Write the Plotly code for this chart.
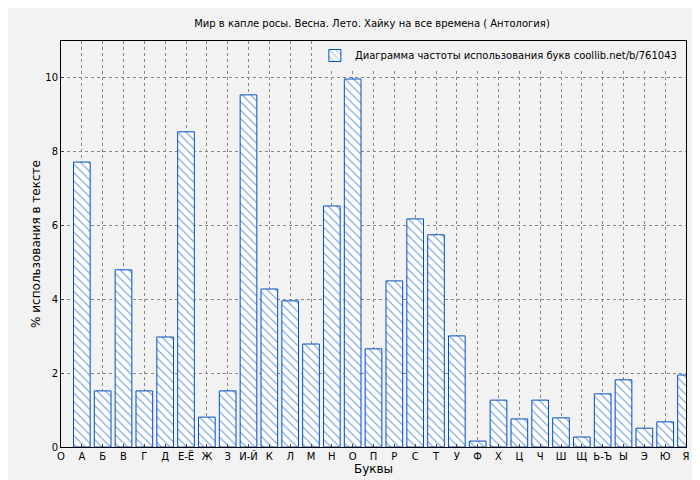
import plotly.graph_objects as go

letters = ["А","Б","В","Г","Д","Е-Ё","Ж","З","И-Й","К","Л","М","Н","О","П","Р","С","Т","У","Ф","Х","Ц","Ч","Ш","Щ","Ь-Ъ","Ы","Э","Ю","Я"]
values = [7.72,1.52,4.80,1.52,2.98,8.54,0.81,1.52,9.54,4.28,3.96,2.79,6.53,9.97,2.66,4.50,6.18,5.75,3.01,0.16,1.27,0.76,1.27,0.79,0.27,1.44,1.82,0.51,0.68,1.95]
tick_labels = ["О"] + letters
positions = list(range(1, len(letters) + 1))

fig = go.Figure(go.Bar(
    x=positions, y=values, width=0.8,
    name="Диаграмма частоты использования букв coollib.net/b/761043",
    marker=dict(color="white", line=dict(color="#0050c0", width=1),
                pattern=dict(shape="\\", fgcolor="#0050c0", bgcolor="white", size=6, solidity=0.2)),
    showlegend=True,
))
fig.update_layout(
    width=700, height=480,
    margin=dict(l=53, r=22, t=33, b=41),
    paper_bgcolor="#f2f2f2", plot_bgcolor="#f2f2f2",
    font=dict(family="DejaVu Sans", size=10, color="black"),
    title=dict(text="Мир в капле росы. Весна. Лето. Хайку на все времена ( Антология)", x=0.52, y=0.975, xanchor="center", font=dict(size=10)),
    legend=dict(x=0.995, y=1.0, xanchor="right", yanchor="top", bgcolor="#f2f2f2", font=dict(size=10)),
    xaxis=dict(title=dict(text="Буквы", standoff=2), range=[0, 30], tickvals=list(range(0, 31)), ticktext=tick_labels,
               automargin=False, showgrid=True, gridcolor="#888", griddash="dot", showline=True, linecolor="black", mirror=True,
               ticks="inside", ticklen=3, zeroline=False),
    yaxis=dict(title=dict(text="% использования в тексте", standoff=2), range=[0, 11], dtick=2,
               automargin=False, showgrid=True, gridcolor="#888", griddash="dot", showline=True, linecolor="black", mirror=True,
               ticks="inside", ticklen=3, zeroline=False),
)
fig.write_html("out.html")
